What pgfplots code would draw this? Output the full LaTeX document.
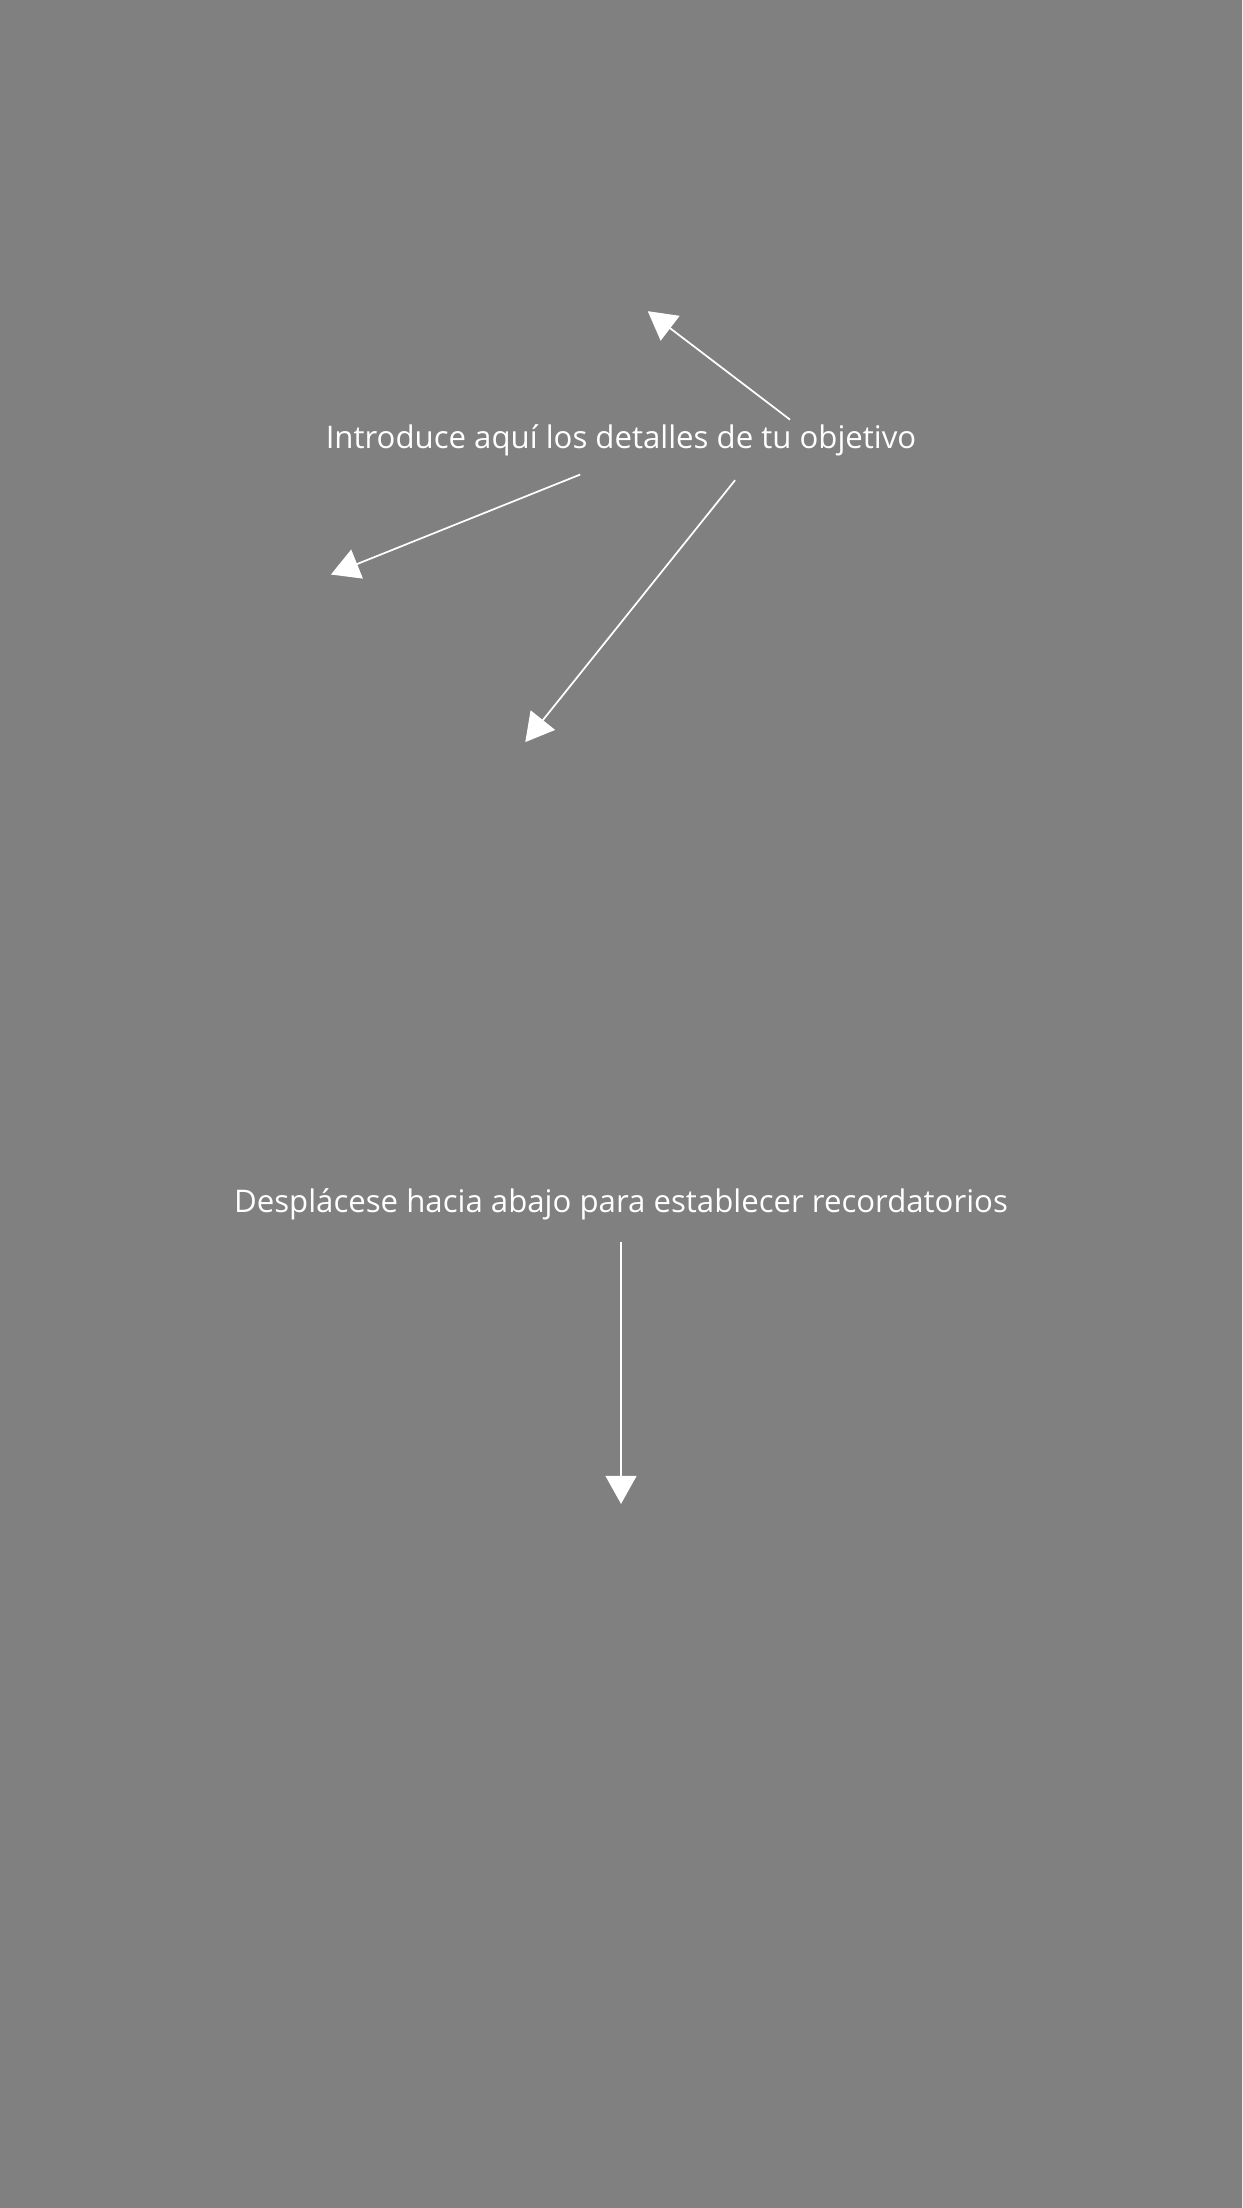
\documentclass[border=0pt]{standalone}
\usepackage{pgfplots}
\pgfplotsset{compat=1.18}
\usetikzlibrary{arrows.meta}
\usepackage{fontspec}
\setmainfont{Open Sans}
\begin{document}
\begin{tikzpicture}
\begin{axis}[scale only axis, width=8.82cm, height=15.68cm, xmin=0, xmax=882, ymin=0, ymax=1568, y dir=reverse, hide axis, clip=true]
\addplot[fill={rgb,255:red,128;green,128;blue,128}, draw=none] coordinates {(0,0)(882,0)(882,1568)(0,1568)} \closedcycle;
\pgfplotsset{every axis plot/.append style={}}
\addplot[white, line width=0.35pt, -{Triangle[length=2mm,width=2.2mm]}] coordinates {(561,298)(460,221)};
\addplot[white, line width=0.35pt, -{Triangle[length=2mm,width=2.2mm]}] coordinates {(412,337)(235,408)};
\addplot[white, line width=0.35pt, -{Triangle[length=2mm,width=2.2mm]}] coordinates {(522,341)(373,527)};
\addplot[white, line width=0.35pt, -{Triangle[length=2mm,width=2.2mm]}] coordinates {(441,882)(441,1068)};
\node[white, font=\fontsize{6.3}{8}\selectfont] at (axis cs:441,313) {Introduce aquí los detalles de tu objetivo};
\node[white, font=\fontsize{6.3}{8}\selectfont] at (axis cs:441,855) {Desplácese hacia abajo para establecer recordatorios};
\end{axis}
\end{tikzpicture}
\end{document}
